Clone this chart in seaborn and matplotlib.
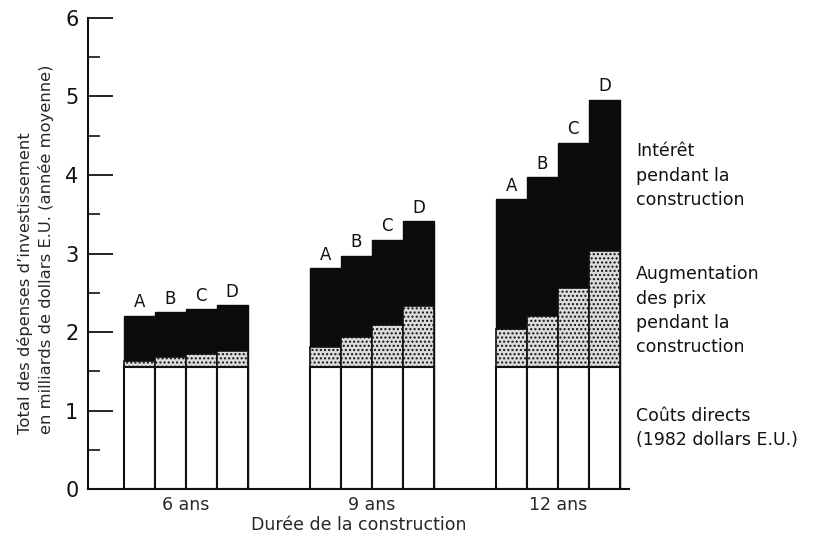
import numpy as np
import pandas as pd
import matplotlib
matplotlib.use("Agg")
import matplotlib.pyplot as plt
import matplotlib.transforms as mtransforms
import seaborn as sns

durations = ["6 ans", "9 ans", "12 ans"]
options = ["A", "B", "C", "D"]

# milliards de dollars E.U., par durée puis par option A-D
direct_costs = [
    [1.55, 1.55, 1.55, 1.55],
    [1.55, 1.55, 1.55, 1.55],
    [1.55, 1.55, 1.55, 1.55],
]
price_increase = [
    [0.08, 0.13, 0.17, 0.21],
    [0.26, 0.39, 0.54, 0.78],
    [0.49, 0.66, 1.01, 1.48],
]
interest = [
    [0.58, 0.57, 0.57, 0.58],
    [1.00, 1.03, 1.08, 1.08],
    [1.65, 1.76, 1.85, 1.93],
]

layer_labels = [
    "Intérêt\npendant la\nconstruction",
    "Augmentation\ndes prix\npendant la\nconstruction",
    "Coûts directs\n(1982 dollars E.U.)",
]

rows = []
for g, dur in enumerate(durations):
    for k, opt in enumerate(options):
        d = direct_costs[g][k]
        p = price_increase[g][k]
        i = interest[g][k]
        rows.append({
            "duree": dur,
            "option": opt,
            "pos": g * 6 + k + 0.5,
            "direct": d,
            "prix": d + p,
            "total": d + p + i,
        })
df = pd.DataFrame(rows)

sns.set_style("ticks")
plt.rcParams["font.family"] = ["DejaVu Sans"]
plt.rcParams["hatch.color"] = "#555555"

fig = plt.figure(figsize=(8.16, 5.40), dpi=100)
ax = fig.add_axes([0.108, 0.094, 0.663, 0.873])

sns.barplot(data=df, x="pos", y="total", native_scale=True, width=1.0,
            color="#0b0b0b", saturation=1, edgecolor="#0b0b0b",
            linewidth=1.0, errorbar=None, ax=ax)
sns.barplot(data=df, x="pos", y="prix", native_scale=True, width=1.0,
            color="#dcdcdc", saturation=1, edgecolor="#111111",
            linewidth=1.2, hatch="....", errorbar=None, ax=ax)
sns.barplot(data=df, x="pos", y="direct", native_scale=True, width=1.0,
            color="white", saturation=1, edgecolor="#111111",
            linewidth=1.5, errorbar=None, ax=ax)

for _, r in df.iterrows():
    ax.text(r["pos"], r["total"] + 0.06, r["option"], ha="center",
            va="bottom", fontsize=12, color="#111111")

ax.set_xlim(-1.15, 16.3)
ax.set_ylim(0, 6)
ax.set_yticks(range(0, 7))
ax.set_yticks(np.arange(0.5, 6, 1.0), minor=True)
ax.tick_params(axis="y", which="major", direction="in", length=18,
               width=1.3, labelsize=15, pad=7, colors="#111111")
ax.tick_params(axis="y", which="minor", direction="in", length=8.5,
               width=1.3)
centers = [g * 6 + 2 for g in range(len(durations))]
ax.set_xticks(centers)
ax.set_xticklabels(durations, fontsize=12.5)
ax.tick_params(axis="x", length=0, pad=5)

sns.despine(ax=ax)
for s in ["left", "bottom"]:
    ax.spines[s].set_linewidth(1.5)
    ax.spines[s].set_color("#111111")

ax.set_xlabel("Durée de la construction", fontsize=12.5, labelpad=1)
ax.set_ylabel("Total des dépenses d’investissement\n"
              "en milliards de dollars E.U. (année moyenne)",
              fontsize=11.8, linespacing=1.4, multialignment="left")
ax.yaxis.set_label_coords(-0.063, 0.51)

trans = mtransforms.blended_transform_factory(ax.transAxes, ax.transData)
label_y = [3.99, 2.27, 0.78]
for txt, y in zip(layer_labels, label_y):
    ax.text(1.013, y, txt, transform=trans, ha="left", va="center",
            fontsize=12.5, linespacing=1.45, color="#111111")

fig.savefig("out.png", dpi=100)
